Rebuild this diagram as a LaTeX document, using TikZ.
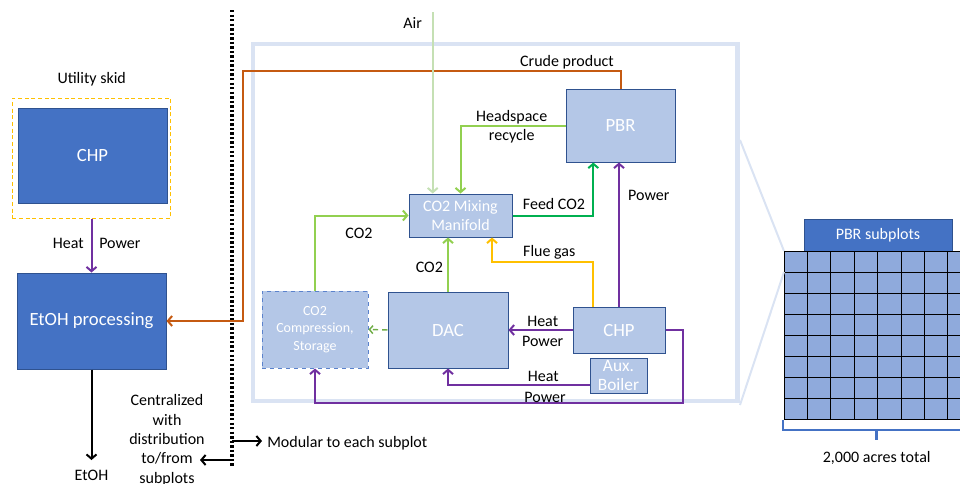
\documentclass[tikz,border=0pt]{standalone}
\usepackage{fontspec}
\setmainfont{Carlito}
\usetikzlibrary{arrows.meta,calc}
\definecolor{dblue}{HTML}{4472C4}
\definecolor{dborder}{HTML}{2F528F}
\definecolor{lblue}{HTML}{B4C7E7}
\definecolor{gridblue}{HTML}{8FAADC}
\definecolor{framec}{HTML}{DAE3F3}
\definecolor{orng}{HTML}{C55A11}
\definecolor{purp}{HTML}{7030A0}
\definecolor{lgreen}{HTML}{92D050}
\definecolor{dgreen}{HTML}{00B050}
\definecolor{pgreen}{HTML}{C5E0B4}
\definecolor{ygold}{HTML}{FFC000}
\definecolor{mgreen}{HTML}{70AD47}
\definecolor{cborder}{HTML}{5B82CC}
\begin{document}
\begin{tikzpicture}[x=0.75pt,y=-0.75pt,
  dims/.style 2 args={minimum width=#1*0.75pt, minimum height=#2*0.75pt},
  darkbox/.style={draw=dborder, line width=0.75pt, fill=dblue, text=white, font=\fontsize{14}{17}\selectfont, inner sep=0pt, align=center},
  lightbox/.style={draw=dborder, line width=0.75pt, fill=lblue, text=white, inner sep=0pt, align=center},
  lbl/.style={font=\fontsize{12}{14.5}\selectfont, align=center, inner sep=0pt},
  conn/.style={line width=1.5pt, -{Straight Barb[length=3.2pt,width=7.5pt]}},
]
\useasboundingbox (0,0) rectangle (960,483);

% ---------- left utility area ----------
\node[lbl] (skidlbl) at (91.7,79) {Utility skid};
\node[draw=ygold, line width=0.75pt, dash pattern=on 3pt off 2pt, dims={158.4}{119.7}, inner sep=0pt] (skid) at (91.5,158.2) {};
\node[darkbox, dims={149}{95}] (chpL) at (92.5,155.5) {CHP};
\node[darkbox, dims={149}{96}] (etoh) at (91.5,321) {EtOH processing};

% ---------- frame of the modular unit ----------
\node[draw=framec, line width=3.4pt, dims={484.5}{357}, inner sep=0pt] (frame) at (495.25,222.5) {};

% ---------- main process boxes ----------
\node[lightbox, dims={109}{73}, font=\fontsize{14}{17}\selectfont] (pbr) at (620.5,125.5) {PBR};
\node[lightbox, dims={103}{43}, font=\fontsize{12}{14.5}\selectfont] (mix) at (460.5,215.5) {CO2 Mixing\\Manifold};
\node[lightbox, draw=cborder, dashed, dims={106}{77}, font=\fontsize{10.5}{13.3}\selectfont] (comp) at (315,329.5) {CO2\\Compression,\\Storage};
\node[lightbox, dims={120}{76}, font=\fontsize{14}{17}\selectfont] (dac) at (448,330) {DAC};
\node[lightbox, dims={92}{46}, font=\fontsize{14}{17}\selectfont] (chp) at (619,330) {CHP};
\node[lightbox, dims={57}{35}, font=\fontsize{13}{14.3}\selectfont] (aux) at (618.5,375.5) {Aux.\\Boiler};

% ---------- PBR subplots ----------
\node[darkbox, dims={148}{32}, font=\fontsize{12}{14.5}\selectfont] (sub) at (878,235) {PBR subplots};
\coordinate (gtl) at (784,251);
\coordinate (gml) at (784,272);
\fill[gridblue] (784,251) rectangle (990,419.3);
\foreach \i in {0,...,8} {
  \draw[black, line width=0.75pt] (784,251+\i*21.04) -- (990,251+\i*21.04);
}
\foreach \j in {0,...,8} {
  \draw[black, line width=0.75pt] (784+\j*23.4,251) -- (784+\j*23.4,419.3);
}
\draw[dblue, line width=2.2pt] (783,419.5) -- (783,430) -- (990,430);
\draw[dblue, line width=2.2pt] (876.5,430) -- (876.5,440);
\node[lbl] (acres) at (876.7,458) {2,000 acres total};

% zoom lines from frame to grid
\coordinate (zf1) at (740,140);
\coordinate (zf2) at (740,405);
\draw[framec, line width=1.5pt] (zf1) -- (gtl);
\draw[framec, line width=1.5pt] (zf2) -- (gml);

% ---------- dotted divider ----------
\coordinate (dtop) at (232,10);
\coordinate (dbot) at (232,467);
\draw[black, line width=2.4pt, dash pattern=on 1.8pt off 1.6pt] (dtop) -- (dbot);
\coordinate (dl) at (232,460);
\coordinate (dr) at (232,441);
\draw[conn, black] (dl) -- ++(-32,0);
\draw[conn, black] (dr) -- ++(30,0);
\node[lbl, anchor=west] (modlbl) at (267,443) {Modular to each subplot};
\node[lbl] (centlbl) at (167,440.3) {Centralized\\with\\distribution\\to/from\\subplots};

% ---------- left connectors ----------
\draw[conn, purp] (skid.south) -- (skid.south |- etoh.north);
\node[lbl, anchor=east] (hl) at (84,243) {Heat};
\node[lbl, anchor=west] (pl) at (99,243) {Power};
\coordinate (etohout) at (91.5,460);
\draw[conn, black] (etoh.south) -- (etohout);
\node[lbl] (etohlbl) at (91.5,475) {EtOH};

% crude product
\coordinate (ocorner) at (242.7,70.5);
\draw[conn, orng] (pbr.north) |- (ocorner) |- (etoh.east);
\node[lbl] (crude) at (567,62) {Crude product};

% air
\coordinate (airtop) at (432.7,12);
\draw[conn, pgreen] (airtop) -- (airtop |- mix.north);
\node[lbl] (airlbl) at (412.7,23) {Air};

% headspace recycle
\draw[conn, lgreen] ($(pbr.west)+(0,0.2)$) -| (mix.north);
\node[lbl] (headlbl) at (511.7,127) {Headspace\\recycle};

% feed CO2
\draw[conn, dgreen] (mix.east) -| ($(pbr.south)+(-27.2,0)$);
\node[lbl] (feedlbl) at (554,204) {Feed CO2};

% CO2 from compression
\draw[conn, lgreen] (comp.north) |- (mix.west);
\node[lbl] (co2a) at (359,233) {CO2};

% CO2 from DAC
\draw[conn, lgreen] (dac.north) -- (dac.north |- mix.south);
\node[lbl] (co2b) at (429.3,267.7) {CO2};

% flue gas
\draw[conn, ygold] ($(chp.north)+(-26.3,0)$) -- ++(0,-44.7) -| ($(mix.south)+(31.5,0)$);
\node[lbl] (fluelbl) at (549.3,252) {Flue gas};

% power to PBR
\draw[conn, purp] (chp.north) -- (chp.north |- pbr.south);
\node[lbl] (pwrpbr) at (648.8,195) {Power};

% CHP to DAC
\draw[conn, purp] (chp.west) -- (chp.west -| dac.east);
\node[lbl] (h1) at (542.7,321.7) {Heat};
\node[lbl] (p1) at (542.7,341.7) {Power};

% Aux boiler to DAC
\draw[conn, purp] ($(aux.west)+(0,9.5)$) -| (dac.south);
\node[lbl] (h2) at (543.3,376.7) {Heat};

% CHP to compression
\draw[conn, purp] (chp.east) -- ++(17.7,0) -- ++(0,73.3) -| (comp.south);
\node[lbl] (p2) at (545,397.7) {Power};

% DAC to compression (dashed)
\draw[line width=1.1pt, mgreen, dash pattern=on 4pt off 3pt, -{Straight Barb[length=2.6pt,width=6pt]}] (dac.west) -- (comp.east);

\end{tikzpicture}
\end{document}
